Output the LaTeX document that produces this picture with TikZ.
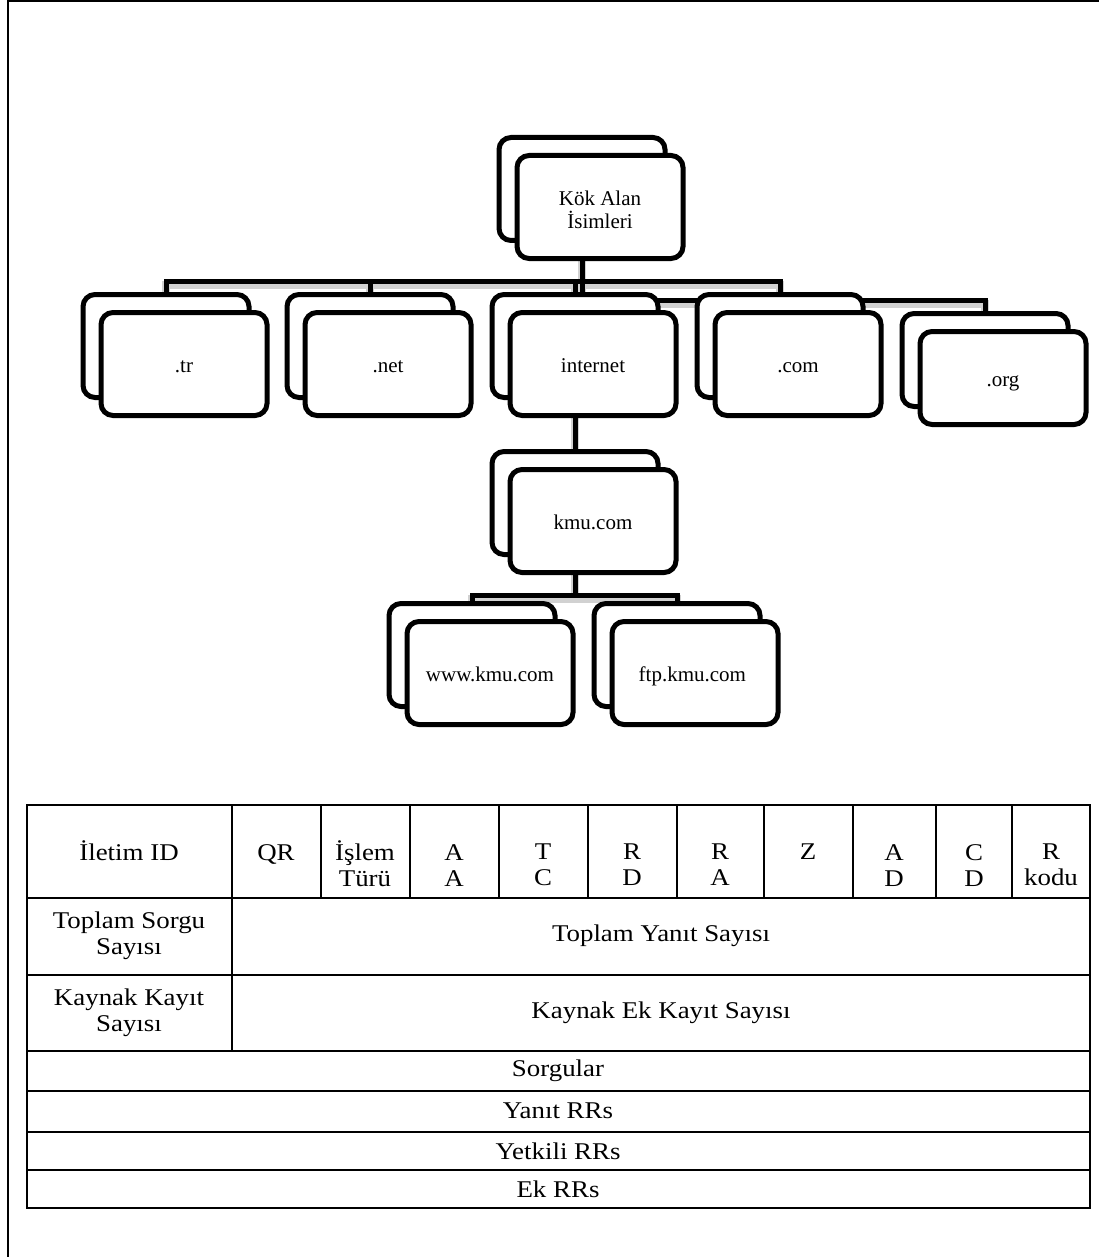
\documentclass[tikz,border=0pt]{standalone}
\usepackage{fontspec}
\setmainfont{Liberation Serif}
\usepackage{graphicx}
\usepackage{tikz}
\usetikzlibrary{backgrounds}
\newcommand{\cellstretch}[1]{\scalebox{1.12}[1]{#1}}

\begin{document}
\begin{tikzpicture}[x=1pt, y=-1pt,
  cardback/.style={draw, line width=5pt, rounded corners=12pt, fill=white,
    minimum width=166pt, minimum height=103pt},
  cardfront/.style={cardback, font=\fontsize{21}{23}\selectfont, align=center},
  wire/.style={line width=5pt},
  wireshade/.style={draw=black!18, line width=8pt, transform canvas={yshift=-4pt}},
  rule/.style={line width=2.5pt},
  cell/.style={font=\fontsize{24}{26}\selectfont, align=center, inner sep=0pt},
  hdr/.style={cell, anchor=north}
]
\useasboundingbox (0,0) rectangle (1099,1257);
% Domain name tree
\foreach \n/\x/\y/\h/\txt in {
  root/582/189/103/{Kök Alan\\İsimleri},
  tr/166/346/103/.tr,
  net/370/346/103/.net,
  inet/575/346/103/internet,
  com/780/346/103/.com,
  org/985/360/93/.org,
  kmu/575/503/103/kmu.com,
  www/472/655/103/www.kmu.com,
  ftp/677/655/103/ftp.kmu.com
} {
  % Back card
  \node[cardback, minimum height=\h pt] (\n) at (\x,\y) {};
  % Front card
  \node[cardfront, minimum height=\h pt] (\n-f) at (\x+18,\y+18) {\rule[-5pt]{0pt}{26pt}\txt};
}
% Connectors (shade first, then line)
\begin{scope}[on background layer]
\foreach \s in {wireshade,wire} {
  \foreach \c in {tr,net,inet,com}
    \draw[\s] (root.south) -- ++(0,38) -| (\c.north);
  \draw[\s] (root.south) -- ++(0,57) -| (org.north);
  \draw[\s] (inet.south) -- (kmu.north);
  \foreach \c in {www,ftp}
    \draw[\s] (kmu.south) -- ++(0,38) -| (\c.north);
}
\end{scope}
% Page frame
\draw[rule] (8,1257) -- (8,1.25) -- (1099,1.25);
% Header table
\draw[rule] (27,805) rectangle (1090,1208);
\foreach \y in {898,975,1051,1091,1132,1170}
  \draw[rule] (27,\y) -- (1090,\y);
\draw[rule] (232,805) -- (232,1051);
\foreach \x in {321,410,499,588,677,764,853,936,1012}
  \draw[rule] (\x,805) -- (\x,898);
% Flag row
\node[hdr] (flag0) at (129,840) {\cellstretch{İletim ID}};
\node[hdr] (flag1) at (276,844) {\cellstretch{QR}};
\node[hdr] (flag2) at (365,840) {\cellstretch{İşlem}\\\cellstretch{Türü}};
\foreach \k/\x/\a/\b in {3/454/A/A, 4/543/T/C, 5/632/R/D, 6/720/R/A, 8/894/A/D, 9/974/C/D, 10/1051/R/kodu}
  \node[hdr] (flag\k) at (\x,844) {\cellstretch{\a}\\\cellstretch{\b}};
\node[hdr] (flag7) at (808,844) {\cellstretch{Z}};
% Counts
\node[cell] (qcount) at (129,936) {\cellstretch{Toplam Sorgu}\\\cellstretch{Sayısı}};
\node[cell] (acount) at (661,936) {\cellstretch{Toplam Yanıt Sayısı}};
\node[cell] (rcount) at (129,1013) {\cellstretch{Kaynak Kayıt}\\\cellstretch{Sayısı}};
\node[cell] (xcount) at (661,1013) {\cellstretch{Kaynak Ek Kayıt Sayısı}};
% Sections
\foreach \n/\y/\txt in {query/1071/Sorgular, ans/1111/Yanıt RRs, auth/1151/Yetkili RRs, extra/1189/Ek RRs}
  \node[cell] (\n) at (558,\y) {\cellstretch{\txt}};
\end{tikzpicture}
\end{document}
